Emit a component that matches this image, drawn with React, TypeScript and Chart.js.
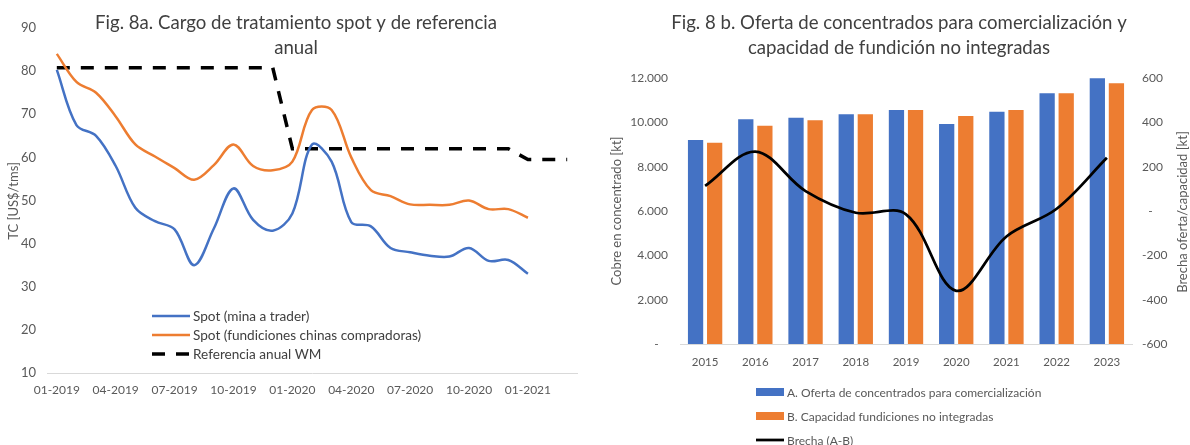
import React, { useEffect, useRef } from "react";
import { Chart, registerables } from "chart.js";

Chart.register(...registerables);

const FONT = "Lato, 'Open Sans', sans-serif";

// ---------- Fig. 8a data ----------
const MONTHS = [
  "01-2019", "02-2019", "03-2019", "04-2019", "05-2019", "06-2019",
  "07-2019", "08-2019", "09-2019", "10-2019", "11-2019", "12-2019",
  "01-2020", "02-2020", "03-2020", "04-2020", "05-2020", "06-2020",
  "07-2020", "08-2020", "09-2020", "10-2020", "11-2020", "12-2020",
  "01-2021", "02-2021", "03-2021",
];
const SPOT_MINA = [
  80.3, 67.5, 65, 58, 48.3, 45.2, 43.3, 35, 43.5, 52.8, 45.5, 43,
  47, 63, 59, 45, 44, 39, 38, 37.2, 37, 39, 36, 36.2, 33,
];
const SPOT_CHINA = [
  84, 77.5, 75, 69.5, 63, 60.2, 57.5, 54.8, 58.2, 63, 58, 57,
  59, 71, 71, 60, 52.4, 51, 49.1, 49, 49, 50, 48, 48, 46,
];
const REF_WM = [
  80.8, 80.8, 80.8, 80.8, 80.8, 80.8, 80.8, 80.8, 80.8, 80.8, 80.8, 80.8,
  62, 62, 62, 62, 62, 62, 62, 62, 62, 62, 62, 62,
  59.5, 59.5, 59.5,
];
const TITLE_A = ["Fig. 8a. Cargo de tratamiento spot y de referencia", "anual"];
const YTITLE_A = "TC [US$/tms]";
const LABELS_A = [
  "Spot (mina a trader)",
  "Spot (fundiciones chinas compradoras)",
  "Referencia anual WM",
];

// ---------- Fig. 8b data ----------
const YEARS = ["2015", "2016", "2017", "2018", "2019", "2020", "2021", "2022", "2023"];
const OFERTA_A = [9200, 10135, 10210, 10360, 10555, 9925, 10480, 11310, 11985];
const CAPACIDAD_B = [9080, 9850, 10090, 10360, 10555, 10285, 10555, 11310, 11760];
const BRECHA = [113, 268, 90, -8, -15, -360, -115, 10, 240];
const TITLE_B = [
  "Fig. 8 b. Oferta de concentrados para comercialización y",
  "capacidad de fundición no integradas",
];
const YTITLE_B_LEFT = "Cobre en concentrado [kt]";
const YTITLE_B_RIGHT = "Brecha oferta/capacidad [kt]";
const LABELS_B = [
  "A. Oferta de concentrados para comercialización",
  "B. Capacidad fundiciones no integradas",
  "Brecha (A-B)",
];

const BLUE = "#4472C4";
const ORANGE = "#ED7D31";
const TICK = "#595959";
const TEXT = "#404040";
const AXIS = "#d9d9d9";

function fmtThousands(v: number): string {
  if (v === 0) return "-   ";
  const s = Math.round(v).toString();
  return s.replace(/\B(?=(\d{3})+(?!\d))/g, ".");
}

const leftDecor = {
  id: "leftDecor",
  afterDraw(chart: any) {
    const ctx = chart.ctx as CanvasRenderingContext2D;
    ctx.save();
    ctx.fillStyle = TEXT;
    ctx.font = `18.6px ${FONT}`;
    ctx.textAlign = "center";
    ctx.textBaseline = "middle";
    TITLE_A.forEach((t, i) => ctx.fillText(t, 296, 23 + i * 25));

    ctx.save();
    ctx.translate(14, 201);
    ctx.rotate(-Math.PI / 2);
    ctx.font = `13px ${FONT}`;
    ctx.fillStyle = TICK;
    ctx.fillText(YTITLE_A, 0, 0);
    ctx.restore();

    chart.data.datasets.forEach((ds: any, i: number) => {
      const y = 316 + i * 19;
      ctx.beginPath();
      ctx.strokeStyle = ds.borderColor;
      ctx.lineWidth = ds.borderWidth;
      ctx.setLineDash(ds.borderDash || []);
      ctx.moveTo(152, y);
      ctx.lineTo(190, y);
      ctx.stroke();
      ctx.setLineDash([]);
      ctx.fillStyle = TEXT;
      ctx.font = `13.6px ${FONT}`;
      ctx.textAlign = "left";
      ctx.fillText(ds.label, 193, y + 1);
    });
    ctx.restore();
  },
};

const rightDecor = {
  id: "rightDecor",
  afterDraw(chart: any) {
    const ctx = chart.ctx as CanvasRenderingContext2D;
    ctx.save();
    ctx.fillStyle = TEXT;
    ctx.font = `18.6px ${FONT}`;
    ctx.textAlign = "center";
    ctx.textBaseline = "middle";
    TITLE_B.forEach((t, i) => ctx.fillText(t, 309, 23 + i * 25));

    ctx.font = `13px ${FONT}`;
    ctx.fillStyle = TICK;
    ctx.save();
    ctx.translate(27, 211);
    ctx.rotate(-Math.PI / 2);
    ctx.fillText(YTITLE_B_LEFT, 0, 0);
    ctx.restore();
    ctx.save();
    ctx.translate(593, 212);
    ctx.rotate(-Math.PI / 2);
    ctx.fillText(YTITLE_B_RIGHT, 0, 0);
    ctx.restore();

    // legend: bars first then line
    const items = [
      { ds: chart.data.datasets[1], y: 392 },
      { ds: chart.data.datasets[2], y: 416 },
      { ds: chart.data.datasets[0], y: 440 },
    ];
    items.forEach(({ ds, y }) => {
      if (ds.type === "line") {
        ctx.beginPath();
        ctx.strokeStyle = ds.borderColor;
        ctx.lineWidth = ds.borderWidth;
        ctx.moveTo(166, y);
        ctx.lineTo(194, y);
        ctx.stroke();
      } else {
        ctx.fillStyle = ds.backgroundColor;
        ctx.fillRect(166, y - 4, 28, 8);
      }
      ctx.fillStyle = TICK;
      ctx.font = `12px ${FONT}`;
      ctx.textAlign = "left";
      ctx.fillText(ds.label, 197, y + 1);
    });
    ctx.restore();
  },
};

export default function App() {
  const leftRef = useRef<HTMLCanvasElement>(null);
  const rightRef = useRef<HTMLCanvasElement>(null);

  useEffect(() => {
    const c1 = new Chart(leftRef.current as HTMLCanvasElement, {
      type: "line",
      data: {
        labels: MONTHS,
        datasets: [
          {
            label: LABELS_A[0],
            data: SPOT_MINA,
            borderColor: BLUE,
            borderWidth: 2.5,
            pointRadius: 0,
            tension: 0.35,
            fill: false,
          },
          {
            label: LABELS_A[1],
            data: SPOT_CHINA,
            borderColor: ORANGE,
            borderWidth: 2.5,
            pointRadius: 0,
            tension: 0.35,
            fill: false,
          },
          {
            label: LABELS_A[2],
            data: REF_WM,
            borderColor: "#000000",
            borderWidth: 3.5,
            borderDash: [13, 11],
            pointRadius: 0,
            tension: 0,
            fill: false,
          },
        ],
      },
      options: {
        responsive: false,
        devicePixelRatio: 1,
        animation: false,
        layout: { padding: { left: 0, right: 13, top: 28, bottom: 42 } },
        plugins: {
          legend: { display: false },
          tooltip: { enabled: false },
          title: { display: false },
        },
        scales: {
          x: {
            type: "category",
            offset: true,
            grid: { display: false, drawTicks: false },
            border: { display: true, color: AXIS, width: 1 },
            ticks: {
              autoSkip: false,
              maxRotation: 0,
              minRotation: 0,
              padding: 10,
              color: TICK,
              font: { family: FONT, size: 12 },
              callback: (_v: any, i: number) => (i % 3 === 0 ? MONTHS[i] : ""),
            },
            afterFit: (s: any) => {
              s.height = 30;
            },
          },
          y: {
            min: 10,
            max: 90,
            grid: { display: false, drawTicks: false },
            border: { display: false },
            ticks: {
              stepSize: 10,
              padding: 11,
              color: TICK,
              font: { family: FONT, size: 13 },
            },
            afterFit: (s: any) => {
              s.width = 47;
            },
          },
        },
      },
      plugins: [leftDecor],
    } as any);

    const c2 = new Chart(rightRef.current as HTMLCanvasElement, {
      type: "bar",
      data: {
        labels: YEARS,
        datasets: [
          {
            type: "line",
            label: LABELS_B[2],
            data: BRECHA,
            yAxisID: "y1",
            borderColor: "#000000",
            backgroundColor: "#000000",
            borderWidth: 2.75,
            pointRadius: 0,
            tension: 0.35,
            fill: false,
            order: 0,
          },
          {
            type: "bar",
            label: LABELS_B[0],
            data: OFERTA_A,
            yAxisID: "y",
            backgroundColor: BLUE,
            categoryPercentage: 0.76,
            barPercentage: 0.8,
            order: 1,
          },
          {
            type: "bar",
            label: LABELS_B[1],
            data: CAPACIDAD_B,
            yAxisID: "y",
            backgroundColor: ORANGE,
            categoryPercentage: 0.76,
            barPercentage: 0.8,
            order: 2,
          },
        ],
      },
      options: {
        responsive: false,
        devicePixelRatio: 1,
        animation: false,
        layout: { padding: { left: 0, right: 0, top: 78, bottom: 71 } },
        plugins: {
          legend: { display: false },
          tooltip: { enabled: false },
          title: { display: false },
        },
        scales: {
          x: {
            type: "category",
            grid: { display: false, drawTicks: false },
            border: { display: true, color: AXIS, width: 1 },
            ticks: {
              maxRotation: 0,
              padding: 11,
              color: TICK,
              font: { family: FONT, size: 11.5 },
            },
            afterFit: (s: any) => {
              s.height = 30;
            },
          },
          y: {
            position: "left",
            min: 0,
            max: 12000,
            grid: { display: false, drawTicks: false },
            border: { display: false },
            ticks: {
              stepSize: 2000,
              padding: 12,
              color: TICK,
              font: { family: FONT, size: 12 },
              callback: (v: any) => fmtThousands(Number(v)),
            },
            afterFit: (s: any) => {
              s.width = 90;
            },
          },
          y1: {
            position: "right",
            min: -600,
            max: 600,
            grid: { display: false, drawTicks: false },
            border: { display: false },
            ticks: {
              stepSize: 200,
              padding: 10,
              color: TICK,
              font: { family: FONT, size: 12 },
              callback: (v: any) => (Number(v) === 0 ? "  -" : String(v)),
            },
            afterFit: (s: any) => {
              s.width = 58;
            },
          },
        },
      },
      plugins: [rightDecor],
    } as any);

    return () => {
      c1.destroy();
      c2.destroy();
    };
  }, []);

  return (
    <div
      style={{
        position: "fixed",
        left: 0,
        top: 0,
        width: 1190,
        height: 445,
        background: "#ffffff",
        overflow: "hidden",
      }}
    >
      <canvas
        ref={leftRef}
        width={590}
        height={445}
        style={{ position: "absolute", left: 0, top: 0, width: 590, height: 445 }}
      />
      <canvas
        ref={rightRef}
        width={600}
        height={445}
        style={{ position: "absolute", left: 590, top: 0, width: 600, height: 445 }}
      />
    </div>
  );
}
